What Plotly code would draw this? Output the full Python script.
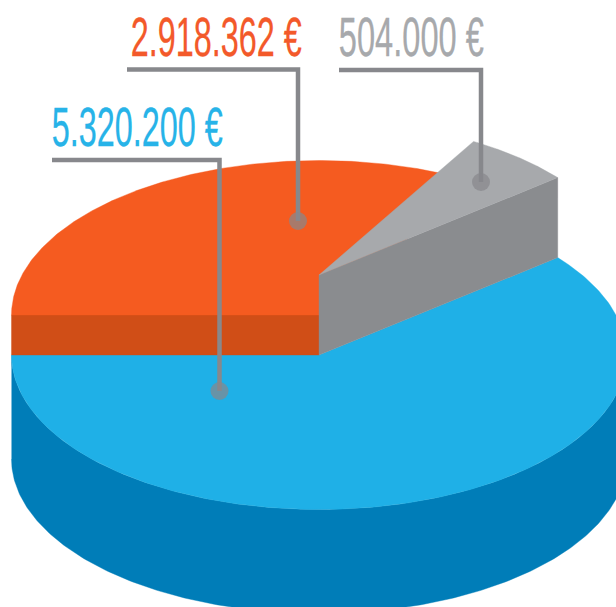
import numpy as np
import plotly.graph_objects as go

# Data (in drawing order round the pie)
labels = ["5.320.200 €", "504.000 €", "2.918.362 €"]
values = [5320200, 504000, 2918362]
top_colors = ["#1FB0E7", "#A7A9AC", "#F55B20"]
side_colors = ["#007DB8", "#8A8C8F", "#D04E17"]
text_colors = ["#27B3E8", "#A7A9AC", "#F3592A"]

# Projection of the pie (the angle of each slice comes from the values)
W, H = 616, 607
CX, CY, RX, RY = 319, 355, 307.5, 154.5
DEPTH = 104
LIFT = [0, 80, 40]
START_DEG = 180  # the first slice starts at the left and runs through the front

fracs = np.array(values) / sum(values)
sweeps = 360 * fracs
ends = START_DEG + np.cumsum(sweeps)
starts = ends - sweeps


def arc(a0, a1, cy, n=240):
    t = np.radians(np.linspace(a0, a1, n))
    return CX + RX * np.cos(t), cy - RY * np.sin(t)


def poly(fig, xs, ys, color):
    fig.add_trace(go.Scatter(x=xs, y=ys, mode="lines", fill="toself", fillcolor=color,
                             line=dict(width=0.4, color=color), hoverinfo="skip", showlegend=False))


fig = go.Figure()

# Blue slice: extruded wall, then top face
x0, y0 = arc(180, 360, CY)
poly(fig, np.r_[x0, x0[::-1]], np.r_[y0, y0[::-1] + DEPTH], side_colors[0])
x1, y1 = arc(starts[0], ends[0], CY)
poly(fig, np.r_[CX, x1, CX], np.r_[CY, y1, CY], top_colors[0])

# Orange slice: cut face at the left, then top face
cy = CY - LIFT[2]
lx = CX - RX
poly(fig, [lx, CX, CX, lx, lx], [cy, cy, CY, CY, cy], side_colors[2])
x2, y2 = arc(starts[2], ends[2], cy)
poly(fig, np.r_[CX, x2, CX], np.r_[cy, y2, cy], top_colors[2])

# Grey slice: cut face, then top face
cy = CY - LIFT[1]
x3, y3 = arc(starts[1], ends[1], cy)
ex, ey = x3[0], y3[0]  # the edge shared with the blue slice
poly(fig, [CX, ex, ex, CX, CX], [cy, ey, ey + LIFT[1], CY, cy], side_colors[1])
poly(fig, np.r_[CX, x3, CX], np.r_[cy, y3, cy], top_colors[1])

# Leader lines with their dots
leaders_x = [[52, 219.5, 219.5], [339, 481, 481], [127, 298, 298]]
leaders_y = [[160, 160, 391], [70, 70, 182], [69.5, 69.5, 221]]
for lxs, lys in zip(leaders_x, leaders_y):
    fig.add_trace(go.Scatter(x=lxs, y=lys, mode="lines+markers",
                             line=dict(color="#87888C", width=4.5),
                             marker=dict(size=[0, 0, 18], color="#87888C", line=dict(width=0)),
                             hoverinfo="skip", showlegend=False))

# Value labels
label_x = [137, 411, 216]
label_y = [127, 37, 37]
label_w = [171, 145, 171]
for txt, col, x, y in zip(labels, text_colors, label_x, label_y):
    fig.add_annotation(x=x, y=y, text=txt, showarrow=False, xanchor="center", yanchor="middle",
                       font=dict(family="Liberation Sans Narrow, Liberation Sans", size=55, color=col))

fig.update_layout(
    width=W, height=H, autosize=False,
    margin=dict(l=0, r=0, t=0, b=0),
    paper_bgcolor="white", plot_bgcolor="white", showlegend=False,
    xaxis=dict(range=[0, W], visible=False, fixedrange=True),
    yaxis=dict(range=[H, 0], visible=False, fixedrange=True),
)

# Squeeze the label glyphs to the condensed widths of the original lettering
post = """
var ws = %s;
document.querySelectorAll('.annotation-text').forEach(function(t, i) {
  var b = t.getBBox();
  var cx = b.x + b.width / 2;
  var s = ws[i] / b.width;
  t.setAttribute('transform', 'translate(' + cx + ',0) scale(' + s + ',1) translate(' + (-cx) + ',0)');
  t.style.stroke = t.style.fill;
  t.style.strokeWidth = '0.3px';
});
document.body.style.margin = '0';
""" % label_w
fig.write_html("out.html", post_script=post, config={"displayModeBar": False})
